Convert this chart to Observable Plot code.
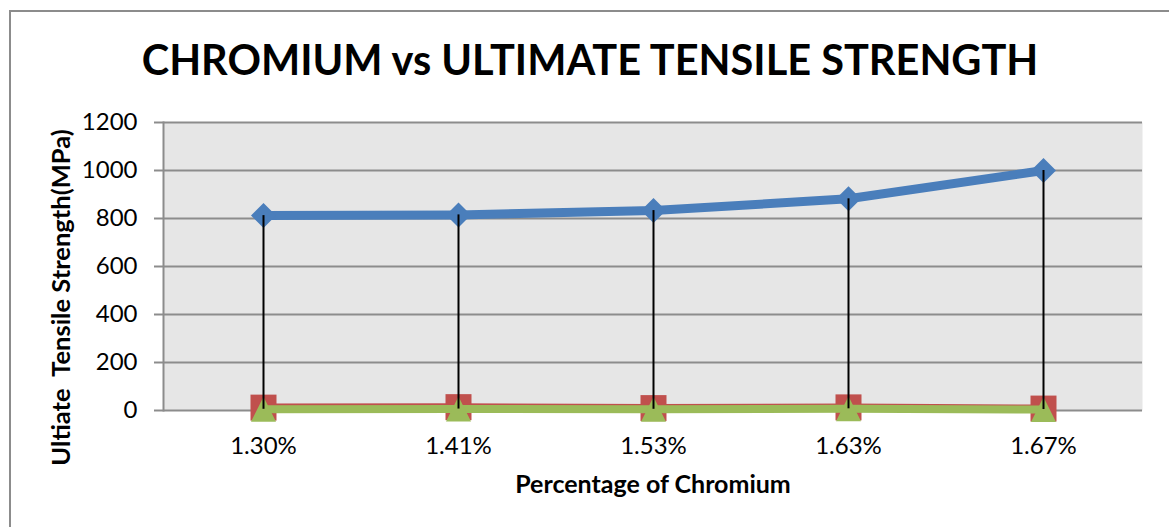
<!DOCTYPE html>
<html>
<head>
<meta charset="utf-8">
<script src="https://cdn.jsdelivr.net/npm/d3@7"></script>
<script src="https://cdn.jsdelivr.net/npm/@observablehq/plot@0.6"></script>
<style>
  html, body { margin: 0; padding: 0; background: #fff; }
  #wrap { position: relative; width: 1169px; height: 527px; overflow: hidden; font-family: Lato, "Open Sans", sans-serif; }
  #border { position: absolute; left: 9px; top: 10px; width: 1300px; height: 700px; border-left: 2px solid #8c8c8c; border-top: 2px solid #8c8c8c; box-sizing: border-box; }
  #title { position: absolute; left: 0; top: 34px; width: 1180px; text-align: center; font-weight: 700; font-size: 41.5px; line-height: normal; color: #000; white-space: nowrap; margin: 0; }
  #chart { position: absolute; left: 0; top: 0; }
</style>
</head>
<body>
<div id="wrap">
  <div id="border"></div>
  <h1 id="title">CHROMIUM vs ULTIMATE TENSILE STRENGTH</h1>
  <div id="chart"></div>
</div>
<script>
const categories = ["1.30%", "1.41%", "1.53%", "1.63%", "1.67%"];
const tensileStrength = [812, 815, 833, 882, 1000];
const seriesRed = [12, 14, 10, 13, 8];
const seriesGreen = [5, 6, 5, 7, 4];
const yTicks = [0, 200, 400, 600, 800, 1000, 1200];

const data = categories.map((c, i) => ({
  cat: c,
  uts: tensileStrength[i],
  red: seriesRed[i],
  green: seriesGreen[i],
  low: Math.min(tensileStrength[i], seriesRed[i], seriesGreen[i])
}));

// custom symbols: r = half-width
const sq = {draw(ctx, size) { const r = Math.sqrt(size / Math.PI); ctx.rect(-r, -r, 2 * r, 2 * r); }};
const tri = {draw(ctx, size) { const r = Math.sqrt(size / Math.PI); ctx.moveTo(0, -r); ctx.lineTo(r, r); ctx.lineTo(-r, r); ctx.closePath(); }};
const dia = {draw(ctx, size) { const r = Math.sqrt(size / Math.PI); ctx.moveTo(0, -r); ctx.lineTo(r, 0); ctx.lineTo(0, r); ctx.lineTo(-r, 0); ctx.closePath(); }};

const blue = "#4a7ebb", red = "#c0504d", green = "#9bbb59", grid = "#8c8c8c";

const chart = Plot.plot({
  width: 1169,
  height: 527,
  marginLeft: 163,
  marginRight: 27,
  marginTop: 122,
  marginBottom: 117,
  style: {fontFamily: "Lato, 'Open Sans', sans-serif", background: "transparent", overflow: "visible"},
  x: {type: "point", domain: categories, padding: 0.5},
  y: {domain: [0, 1200]},
  marks: [
    Plot.frame({fill: "#e6e6e6", stroke: null}),
    Plot.ruleY(yTicks, {stroke: grid, strokeWidth: 2}),
    Plot.frame({anchor: "left", stroke: grid, strokeWidth: 2}),
    Plot.axisY({ticks: yTicks, tickSize: 9, tickPadding: 17, stroke: grid, strokeWidth: 2, fontSize: 24, fill: "#000", label: null, tickFormat: d => String(d)}),
    Plot.axisX({tickSize: 0, tickPadding: 26, fontSize: 24, fill: "#000", label: null}),
    Plot.text(["Ultiate\u00a0 Tensile Strength(MPa)"], {frameAnchor: "left", textAnchor: "middle", lineAnchor: "middle", rotate: -90, dx: -102, dy: 31, fontSize: 25.5, fontWeight: "bold", fill: "#000"}),
    Plot.text(["Percentage of Chromium"], {frameAnchor: "bottom", lineAnchor: "middle", dy: 74, fontSize: 25, fontWeight: "bold", fill: "#000"}),
    Plot.line(data, {x: "cat", y: "red", stroke: red, strokeWidth: 8}),
    Plot.dot(data, {x: "cat", y: "red", symbol: sq, r: 13, fill: red, stroke: null}),
    Plot.line(data, {x: "cat", y: "green", stroke: green, strokeWidth: 8}),
    Plot.dot(data, {x: "cat", y: "green", symbol: tri, r: 12.5, fill: green, stroke: null}),
    Plot.line(data, {x: "cat", y: "uts", stroke: blue, strokeWidth: 9}),
    Plot.dot(data, {x: "cat", y: "uts", symbol: dia, r: 12.5, fill: blue, stroke: null}),
    Plot.ruleX(data, {x: "cat", y1: "low", y2: "uts", stroke: "#000", strokeWidth: 2})
  ]
});
document.getElementById("chart").appendChild(chart);
</script>
</body>
</html>
